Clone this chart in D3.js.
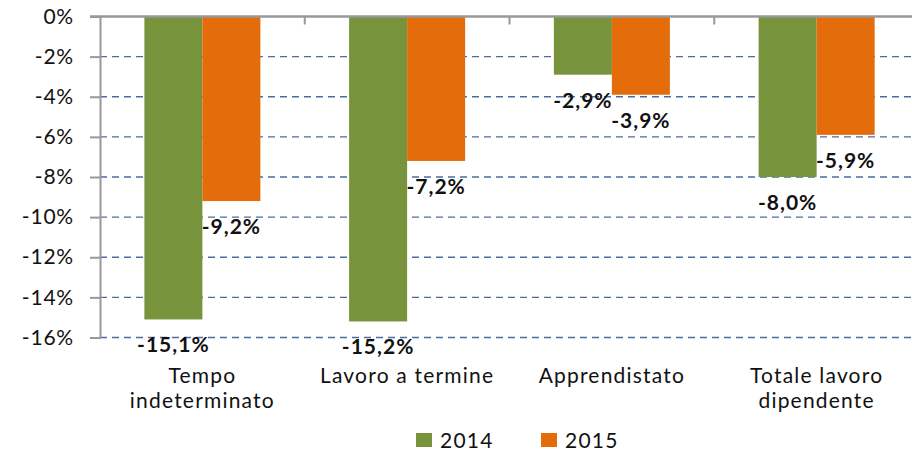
<!DOCTYPE html>
<html>
<head>
<meta charset="utf-8">
<script src="https://cdn.jsdelivr.net/npm/d3@7"></script>
<style>
  body { margin: 0; background: #fff; }
  svg text { font-family: Lato, "Open Sans", sans-serif; fill: #111; }
</style>
</head>
<body>
<div class="chart"></div>
<script>
// data
const categories = [["Tempo", "indeterminato"], ["Lavoro a termine"], ["Apprendistato"], ["Totale lavoro", "dipendente"]];
const series = ["2014", "2015"];
const values2014 = [-15.1, -15.2, -2.9, -8.0];
const values2015 = [-9.2, -7.2, -3.9, -5.9];
const yTicks = [0, -2, -4, -6, -8, -10, -12, -14, -16];
const colors = ["#77933C", "#E46C0A"];

const width = 912, height = 451;
const fs = "21px", ls = "1.2px";
const svg = d3.select(".chart").append("svg")
  .attr("width", width).attr("height", height);

const catKeys = categories.map(c => c.join(" "));
const x = d3.scaleBand().domain(catKeys).range([100, 919]).padding(0);
const x1 = d3.scaleBand().domain(series).range([0, x.bandwidth()]).paddingInner(0).paddingOuter(0.765);
const y = d3.scaleLinear().domain([-16, 0]).range([337.5, 16.5]);

const pct = v => String(v).replace(".", ",") + "%";

// gridlines
svg.append("g")
  .selectAll("line")
  .data(yTicks.filter(d => d !== 0))
  .enter().append("line")
  .attr("x1", 100).attr("x2", width)
  .attr("y1", d => y(d)).attr("y2", d => y(d))
  .attr("stroke", "#4A6EA0")
  .attr("stroke-width", 1.3)
  .attr("stroke-dasharray", "7,5");

// y axis
const yAxis = svg.append("g")
  .attr("transform", "translate(100,0)")
  .call(d3.axisLeft(y).tickValues(yTicks).tickSize(10).tickPadding(16)
    .tickFormat(d => d + "%"));
yAxis.select(".domain").attr("stroke", "#999").attr("stroke-width", 2);
yAxis.selectAll(".tick line").attr("stroke", "#999").attr("stroke-width", 2);
yAxis.selectAll(".tick text").style("font-size", fs).style("letter-spacing", "0.8px")
  .attr("fill", "#111").style("font-family", "Lato, sans-serif");

const rows = catKeys.map((k, i) => ({ key: k, vals: [values2014[i], values2015[i]] }));

// bars
const groups = svg.append("g").selectAll("g")
  .data(rows).enter().append("g")
  .attr("transform", d => "translate(" + x(d.key) + ",0)");

groups.selectAll("rect")
  .data(d => d.vals.map((v, j) => ({ s: series[j], v: v, j: j })))
  .enter().append("rect")
  .attr("x", d => x1(d.s))
  .attr("width", x1.bandwidth())
  .attr("y", y(0))
  .attr("height", d => y(d.v) - y(0))
  .attr("fill", d => colors[d.j]);

// top axis (zero line)
const xAxis = svg.append("g")
  .attr("transform", "translate(0," + y(0) + ")")
  .call(d3.axisBottom(x).tickSize(0).tickFormat(""));
xAxis.select(".domain").attr("stroke", "#999").attr("stroke-width", 2.5)
  .attr("d", "M90,0H" + width);
svg.append("g").selectAll("line")
  .data(catKeys.slice(1))
  .enter().append("line")
  .attr("x1", d => x(d)).attr("x2", d => x(d))
  .attr("y1", y(0)).attr("y2", y(0) + 8)
  .attr("stroke", "#999").attr("stroke-width", 2);

// value labels
groups.selectAll("text.val")
  .data(d => d.vals.map((v, j) => ({ s: series[j], v: v })))
  .enter().append("text")
  .attr("class", "val")
  .attr("x", d => x1(d.s) + x1.bandwidth() / 2)
  .attr("y", d => y(d.v) + 33)
  .attr("text-anchor", "middle")
  .style("font-size", fs)
  .style("letter-spacing", "1px")
  .style("font-weight", "bold")
  .text(d => pct(d.v.toFixed(1)));

// category labels
svg.append("g").selectAll("text")
  .data(categories).enter().append("text")
  .attr("x", (d, i) => x(catKeys[i]) + x.bandwidth() / 2)
  .attr("y", 383)
  .attr("text-anchor", "middle")
  .style("font-size", fs)
  .style("letter-spacing", ls)
  .selectAll("tspan")
  .data(d => d).enter().append("tspan")
  .attr("x", function () { return this.parentNode.getAttribute("x"); })
  .attr("dy", (d, i) => i === 0 ? 0 : 25)
  .text(d => d);

// legend
const legend = svg.append("g").selectAll("g")
  .data(series).enter().append("g")
  .attr("transform", (d, i) => "translate(" + (416 + i * 125) + ",433)");
legend.append("rect").attr("width", 16).attr("height", 14).attr("fill", (d, i) => colors[i]);
legend.append("text").attr("x", 24).attr("y", 14.5).style("font-size", fs)
  .style("letter-spacing", ls).text(d => d);
</script>
</body>
</html>
